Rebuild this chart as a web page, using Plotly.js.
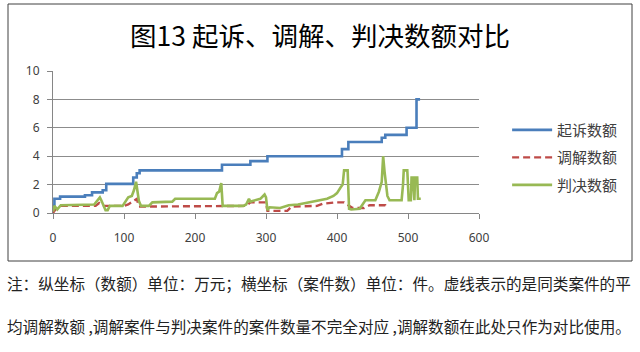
<!DOCTYPE html>
<html>
<head>
<meta charset="utf-8">
<script src="https://cdn.plot.ly/plotly-3.0.1.min.js"></script>
<style>
html,body{margin:0;padding:0;background:#fff;}
#chart{width:640px;height:352px;}
</style>
</head>
<body>
<div id="chart"></div>
<script>
// Series names
const seriesNames = ["起诉数额", "调解数额", "判决数额"];

// 起诉数额 (step line)
const suitX = [0, 2, 10, 45, 55, 70, 75, 113, 118, 122, 238, 278, 302, 407, 416, 463, 468, 498, 512, 517];
const suitY = [0.5, 1.0, 1.15, 1.25, 1.45, 1.6, 2.05, 2.5, 2.8, 3.0, 3.4, 3.65, 4.0, 4.5, 5.0, 5.3, 5.5, 6.0, 8.0, 8.0];

// 调解数额 (dashed)
const medX = [0, 4, 10, 60, 65, 70, 100, 106, 112, 118, 121, 238, 272, 278, 300, 302, 330, 336, 372, 380, 398, 410, 418, 422, 438, 446, 468, 471];
const medY = [0.0, 0.3, 0.5, 0.5, 0.7, 0.5, 0.5, 0.6, 0.8, 1.0, 0.45, 0.45, 0.5, 0.75, 0.75, 0.15, 0.15, 0.45, 0.5, 0.65, 0.75, 0.75, 0.5, 0.35, 0.35, 0.55, 0.55, 0.3];

// 判决数额
const judX = [0, 2, 6, 11, 58, 63, 66, 68, 71, 74, 77, 80, 98, 102, 106, 111, 114, 117, 119, 121,
  124, 135, 140, 155, 168, 172, 228, 231, 234, 237, 239, 268, 272, 276, 278, 281, 286, 292, 296, 298,
  300, 302, 305, 320, 332, 345, 356, 366, 376, 386, 395, 400, 405, 408, 410, 415, 417, 420, 432, 436,
  440, 454, 459, 463, 465, 467, 469, 471, 474, 491, 493, 494, 499, 501, 504, 505, 507, 508, 509, 510,
  513, 514, 518];
const judY = [0.1, 0.5, 0.25, 0.55, 0.6, 0.9, 1.1, 0.9, 0.55, 0.2, 0.2, 0.5, 0.5, 0.85, 1.1, 1.2, 1.6, 2.2, 1.5, 0.85,
  0.5, 0.5, 0.75, 0.75, 0.8, 1.0, 1.0, 1.4, 1.5, 2.1, 0.5, 0.5, 0.6, 1.0, 0.8, 0.85, 0.9, 1.0, 1.2, 1.3,
  1.1, 0.2, 0.4, 0.35, 0.55, 0.6, 0.7, 0.8, 0.85, 1.0, 1.2, 1.4, 1.8, 2.0, 3.0, 3.0, 0.3, 0.25, 0.3, 0.6,
  0.9, 0.9, 1.5, 2.2, 4.0, 2.9, 2.2, 1.2, 0.9, 0.9, 2.0, 3.0, 3.0, 0.9, 0.9, 2.5, 2.5, 0.9, 0.9, 2.5,
  2.5, 1.0, 1.0];

// Axis ticks
const xTicks = [0, 100, 200, 300, 400, 500, 600];
const yTicks = [0, 2, 4, 6, 8, 10];

// Text
const chartTitle = "图13 起诉、调解、判决数额对比";
const noteLine1 = "注：纵坐标（数额）单位：万元；横坐标（案件数）单位：件。虚线表示的是同类案件的平";
const noteLine2 = "均调解数额 ,调解案件与判决案件的案件数量不完全对应 ,调解数额在此处只作为对比使用。";

const CJK = '"Noto Sans CJK SC", "Noto Sans", sans-serif';

const traces = [
  {x: suitX, y: suitY, name: seriesNames[0], type: "scatter", mode: "lines",
   line: {color: "#4a7ebb", width: 2.6, shape: "hv"}, legendgroup: "a"},
  {x: medX, y: medY, name: seriesNames[1], type: "scatter", mode: "lines",
   line: {color: "#be4b48", width: 2.4, dash: "7px,4px"}, legendgroup: "b"},
  {x: judX, y: judY, name: seriesNames[2], type: "scatter", mode: "lines",
   line: {color: "#98b954", width: 2.6}, legendgroup: "c"}
];

const layout = {
  width: 640, height: 352,
  margin: {l: 53, r: 161, t: 71, b: 139},
  paper_bgcolor: "#ffffff", plot_bgcolor: "#ffffff",
  font: {family: CJK, color: "#404040"},
  title: {text: chartTitle, x: 0.5, xref: "container", xanchor: "center",
          y: 1 - 37/352, yref: "container", yanchor: "middle",
          font: {family: CJK, size: 26.5, color: "#000000"}},
  xaxis: {range: [0, 600], tickvals: xTicks, ticktext: xTicks.map(String),
          showgrid: false, zeroline: false, showline: true, linecolor: "#868686", linewidth: 1,
          ticks: "outside", ticklen: 5, tickcolor: "#868686", ticklabelstandoff: 9,
          tickfont: {family: '"Noto Sans", sans-serif', size: 12, color: "#404040"}, fixedrange: true},
  yaxis: {range: [0, 10], tickvals: yTicks, ticktext: yTicks.map(String),
          showgrid: true, gridcolor: "#8c8c8c", gridwidth: 1, zeroline: false,
          showline: true, linecolor: "#868686", linewidth: 1,
          ticks: "outside", ticklen: 5, tickcolor: "#868686", ticklabelstandoff: 5,
          tickfont: {family: '"Noto Sans", sans-serif', size: 12, color: "#404040"}, fixedrange: true},
  showlegend: true,
  legend: {x: 1.066, xanchor: "left", y: 0.70, yanchor: "top", traceorder: "grouped",
           tracegroupgap: 5, itemwidth: 40,
           font: {family: CJK, size: 15, color: "#404040"}, bgcolor: "rgba(0,0,0,0)"},
  shapes: [
    {type: "rect", xref: "paper", yref: "paper",
     x0: (8 - 53) / 426, x1: (632 - 53) / 426,
     y0: (213 - 261) / 142, y1: (213 - 4) / 142,
     line: {color: "#404040", width: 1}, fillcolor: "rgba(0,0,0,0)", layer: "below"}
  ],
  annotations: [
    {text: noteLine1, xref: "paper", yref: "paper", x: (5 - 53) / 426, y: (213 - 283) / 142,
     xanchor: "left", yanchor: "middle", showarrow: false,
     font: {family: CJK, size: 15.6, color: "#222222"}},
    {text: noteLine2, xref: "paper", yref: "paper", x: (5 - 53) / 426, y: (213 - 326) / 142,
     xanchor: "left", yanchor: "middle", showarrow: false,
     font: {family: CJK, size: 15.6, color: "#222222"}}
  ]
};

Plotly.newPlot("chart", traces, layout, {staticPlot: true, displayModeBar: false});
</script>
</body>
</html>
